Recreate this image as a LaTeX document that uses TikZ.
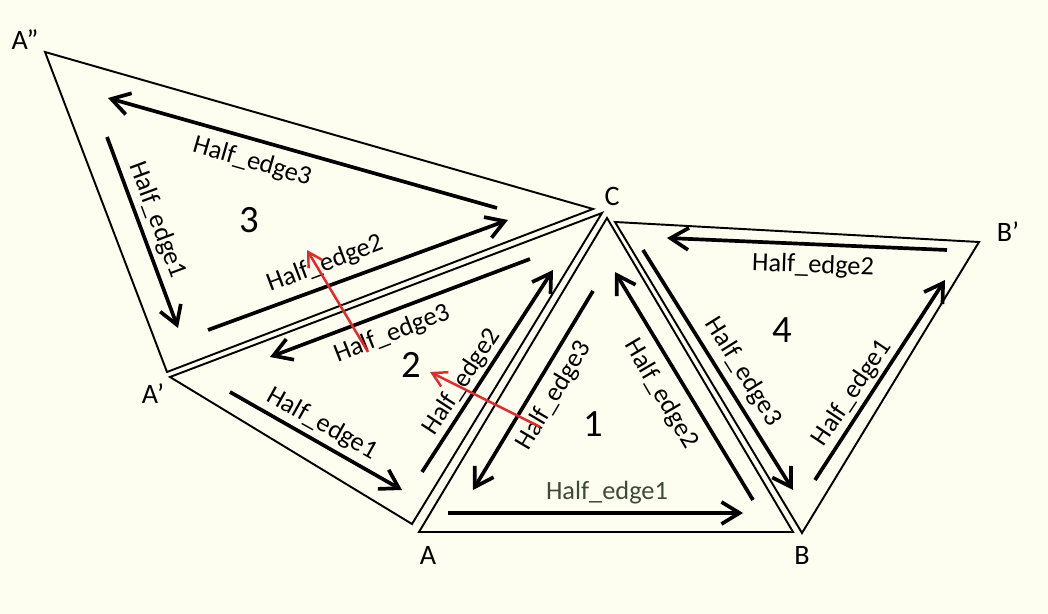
\documentclass[tikz,border=0pt]{standalone}
\usepackage{fontspec}
\setmainfont{Carlito}
\usetikzlibrary{arrows.meta}
\definecolor{cream}{HTML}{FEFEF0}
\definecolor{redarr}{HTML}{E5282B}
\definecolor{mossgray}{HTML}{3C4A3A}
\tikzset{
  tri/.style={draw=black,line width=1.1pt,line join=miter},
  hedge/.style={line width=2.1pt,-{Straight Barb[length=0.36cm,width=0.44cm]}},
  adj/.style={line width=1.4pt,draw=redarr,-{Straight Barb[length=0.28cm,width=0.32cm]}},
  hlab/.style={font=\fontsize{15}{18}\selectfont,inner sep=0pt},
  vlab/.style={font=\fontsize{16}{19}\selectfont,inner sep=0pt},
  fnum/.style={font=\fontsize{22}{26}\selectfont,inner sep=0pt}
}

\begin{document}
\begin{tikzpicture}[x=0.02cm,y=-0.02cm]
\fill[cream] (0,0) rectangle (1048,614);
\useasboundingbox (0,0) rectangle (1048,614);
% faces
\coordinate (A1) at (419,532); \coordinate (B1) at (793,532); \coordinate (C1) at (607,218);
\coordinate (Ap2) at (170,377); \coordinate (A2) at (412,524); \coordinate (C2) at (602,213);
\coordinate (App3) at (45,52); \coordinate (C3) at (593,209); \coordinate (Ap3) at (167,372);
\coordinate (C4) at (615,222); \coordinate (Bp4) at (979,242); \coordinate (B4) at (802,533);
\draw[tri] (A1) -- (B1) -- (C1) -- cycle;
\draw[tri] (Ap2) -- (A2) -- (C2) -- cycle;
\draw[tri] (App3) -- (C3) -- (Ap3) -- cycle;
\draw[tri] (C4) -- (Bp4) -- (B4) -- cycle;
% half edges
\foreach \nm/\xa/\ya/\xb/\yb in {t3e3/497/208/108/98, t3e1/107/137/178/328, t3e2/208/330/508/220,
  t2e3/530/259/270/357, t2e2/422/472/553/270, t2e1/230/392/402/490,
  t1e1/448/513/743/513, t1e2/753/500/615/272, t1e3/593/291/473/490,
  t4e2/947/250/667/238, t4e1/815/480/945/280, t4e3/643/250/793/490}{
  \coordinate (\nm-a) at (\xa,\ya); \coordinate (\nm-b) at (\xb,\yb);
  \draw[hedge] (\nm-a) -- (\nm-b);
}
\foreach \nm/\x/\y/\a/\t in {t3e3/252/162/-16/3, t3e1/157/220/-69.6/1, t3e2/325/264/20.6/2,
  t2e3/392/334/21.4/3, t2e2/462/382/56.7/2, t2e1/322/424/-29.2/1,
  t1e2/661/394/-59.6/2, t1e3/554/396/59.4/3,
  t4e2/813/266/-2/2, t4e1/852/393/56.3/1, t4e3/743/372/-58/3}{
  \node[hlab,rotate=\a] (l-\nm) at (\x,\y) {Half\_edge\t};
}
\node[hlab,text=mossgray] (l-t1e1) at (607,493) {Half\_edge1};
% neighbour links
\coordinate (r1a) at (368,352); \coordinate (r1b) at (307,250);
\coordinate (r2a) at (540,427); \coordinate (r2b) at (430,372);
\draw[adj] (r1a) -- (r1b);
\draw[adj] (r2a) -- (r2b);
% face numbers
\node[fnum] (f3) at (249,220) {3};
\node[fnum] (f2) at (411,365) {2};
\node[fnum] (f1) at (593,424) {1};
\node[fnum] (f4) at (782,330) {4};
% vertex names
\node[vlab] (vApp) at (25,40) {A”};
\node[vlab] (vC) at (612,196) {C};
\node[vlab] (vAp) at (153,394) {A’};
\node[vlab] (vA) at (428,555) {A};
\node[vlab] (vB) at (802,555) {B};
\node[vlab] (vBp) at (1008,232) {B’};
\end{tikzpicture}
\end{document}
